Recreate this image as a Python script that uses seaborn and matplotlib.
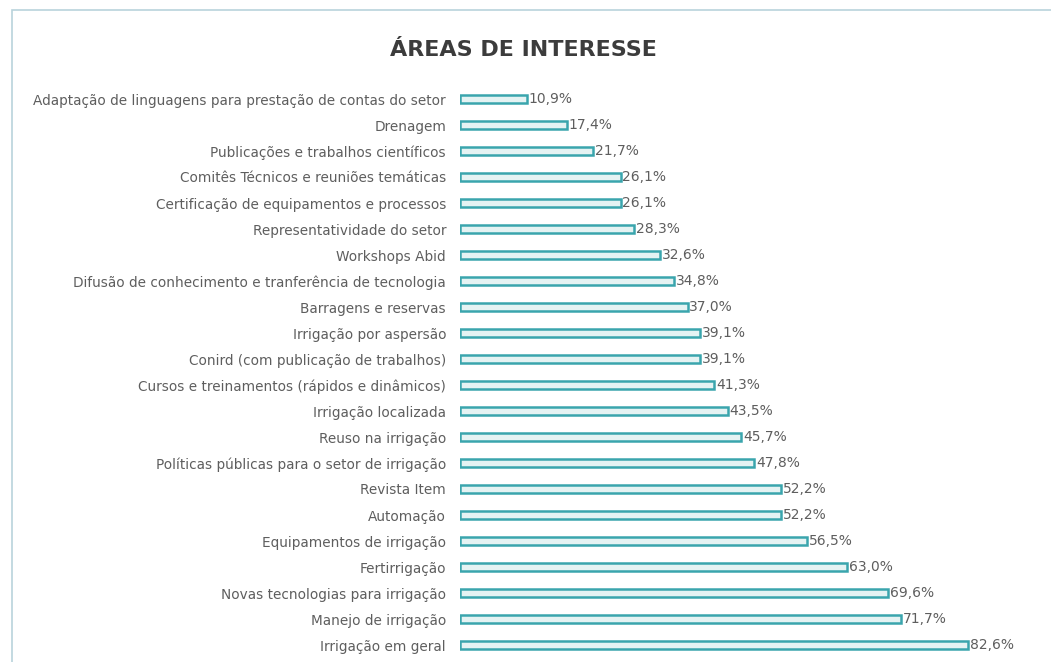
import matplotlib
matplotlib.use("Agg")
import matplotlib.pyplot as plt
import seaborn as sns
import pandas as pd
from matplotlib.patches import Rectangle

categories = [
    "Adaptação de linguagens para prestação de contas do setor",
    "Drenagem",
    "Publicações e trabalhos científicos",
    "Comitês Técnicos e reuniões temáticas",
    "Certificação de equipamentos e processos",
    "Representatividade do setor",
    "Workshops Abid",
    "Difusão de conhecimento e tranferência de tecnologia",
    "Barragens e reservas",
    "Irrigação por aspersão",
    "Conird (com publicação de trabalhos)",
    "Cursos e treinamentos (rápidos e dinâmicos)",
    "Irrigação localizada",
    "Reuso na irrigação",
    "Políticas públicas para o setor de irrigação",
    "Revista Item",
    "Automação",
    "Equipamentos de irrigação",
    "Fertirrigação",
    "Novas tecnologias para irrigação",
    "Manejo de irrigação",
    "Irrigação em geral",
]
values = [10.9, 17.4, 21.7, 26.1, 26.1, 28.3, 32.6, 34.8, 37.0, 39.1, 39.1,
          41.3, 43.5, 45.7, 47.8, 52.2, 52.2, 56.5, 63.0, 69.6, 71.7, 82.6]

df = pd.DataFrame({"cat": categories, "val": values})

sns.set_theme(style="white")
plt.rcParams['font.family'] = ['DejaVu Sans Condensed', 'DejaVu Sans']

W, H = 1051, 662
fig = plt.figure(figsize=(W / 100, H / 100), dpi=100)
fig.patch.set_facecolor("white")

# frame
fig.patches.append(Rectangle((12 / W, -0.1), 1.2, 1 - 10 / H + 0.1,
                             transform=fig.transFigure, fill=False,
                             edgecolor="#b9d3dc", linewidth=1.2))

left_px, right_px = 460, 1040
top_px, bot_px = 86, 658
ax = fig.add_axes([left_px / W, 1 - bot_px / H, (right_px - left_px) / W,
                   (bot_px - top_px) / H])

sns.barplot(data=df, y="cat", x="val", orient="h", ax=ax,
            color="#e2f6f6", edgecolor="#3aa5ad", linewidth=1.8, width=0.3)

ax.set_xlim(0, (right_px - left_px) / 6.15)
ax.set_xlabel("")
ax.set_ylabel("")
ax.set_xticks([])
for s in ax.spines.values():
    s.set_visible(False)
ax.set_facecolor("none")
ax.tick_params(axis="y", length=0, pad=10, labelsize=9.8, labelcolor="#5e5e5e")

for i, v in enumerate(values):
    ax.text(v + 0.3, i, f"{v:.1f}".replace(".", ",") + "%", va="center",
            ha="left", fontsize=10, color="#5e5e5e")

fig.text(523 / W, 1 - 50 / H, "ÁREAS DE INTERESSE", ha="center", va="center",
         fontsize=16, fontweight="bold", color="#3c3c3c")

fig.savefig("out.png", dpi=100)
